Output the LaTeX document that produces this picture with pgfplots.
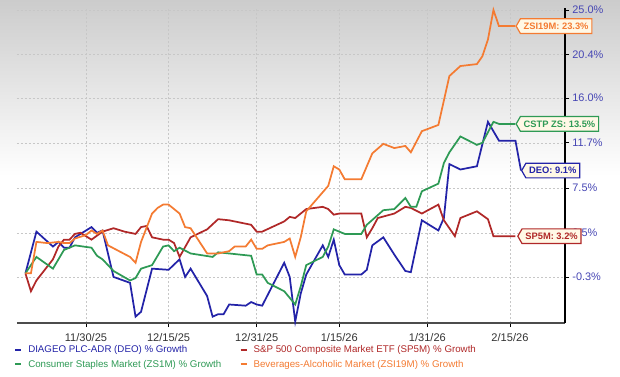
\documentclass[border=0pt]{standalone}
\usepackage{pgfplots}
\usepackage{pgfplotstable}
\pgfplotsset{compat=1.18}
\usepackage{fontspec}
\setmainfont{Liberation Sans}
\usetikzlibrary{shapes.symbols}
\definecolor{deo}{HTML}{2323A8}
\definecolor{spm}{HTML}{B02828}
\definecolor{cstp}{HTML}{2E9A55}
\definecolor{zsi}{HTML}{F47B32}
\definecolor{ticklab}{HTML}{4646B4}
\definecolor{callfill}{HTML}{FFF8E6}

% day 0 = 11/30/25 ; values in % growth
\pgfplotstableread{
d v
-11 0
-9 3.6
-6 2.3
-5 2.7
-4 2.2
-3 2.2
-2 3.1
1 4.0
2 3.5
3 3.7
5 -0.3
8 -0.8
9 -3.6
10 -3.2
12 0.4
15 0.3
17 1.2
18 -0.3
19 0.4
22 -1.9
23 -3.6
24 -3.4
25 -3.4
26 -2.6
29 -2.7
30 -2.4
31 -2.6
32 -2.7
36 0.9
37 -0.3
38 -4.0
39 -1.7
40 -0.1
43 2.4
44 1.4
45 2.9
46 0.7
47 -0.1
50 -0.1
51 0.3
52 2.4
54 3.1
56 1.6
58 0.2
59 0.1
61 4.6
64 3.7
65 4.8
66 9.7
68 9.2
71 9.5
73 13.7
75 11.9
78 11.9
79 9.1
}\deotab

\pgfplotstableread{
d v
-11 0
-10 -1.5
-9 -0.6
-6 1.2
-5 2.3
-4 2.9
-3 2.9
-2 3.4
-1 3.5
1 2.9
3 3.6
5 3.9
7 3.6
9 3.4
10 4.0
11 4.1
12 3.1
14 2.9
15 2.9
16 2.6
17 1.4
19 3.1
22 3.8
24 4.7
26 4.6
30 4.2
31 3.6
32 3.6
36 4.5
37 4.9
38 4.8
39 5.2
40 5.6
43 5.8
44 5.6
45 5.1
46 5.2
50 5.2
51 3.1
52 3.9
53 4.8
56 5.2
58 5.8
59 5.7
61 5.2
64 6.0
65 4.6
67 3.2
68 4.8
71 5.4
73 4.7
74 3.2
78 3.2
}\spmtab

\pgfplotstableread{
d v
-11 0
-9 1.4
-6 0.4
-4 2.0
-3 2.2
-2 2.4
1 2.2
2 1.5
3 1.2
5 0.2
8 -0.6
9 -0.4
10 0.4
12 0.7
14 2.3
15 2.4
16 1.9
17 2.2
19 1.7
23 1.4
24 1.8
30 1.5
31 -0.1
32 -0.1
33 -0.8
36 -1.5
38 -2.6
39 -1.1
40 0.7
43 1.4
44 2.3
45 3.8
47 3.4
50 3.4
51 4.2
54 5.5
56 5.6
58 6.6
59 5.8
60 5.8
61 7.2
64 7.9
65 9.8
66 10.8
68 12.3
71 11.5
72 11.7
74 13.7
75 13.5
78 13.5
}\cstptab

\pgfplotstableread{
d v
-11 0
-10 0
-9 2.7
-7 2.6
-5 2.7
-4 2.6
-3 2.6
-2 3.0
0 3.3
1 3.7
2 3.4
3 3.7
4 2.4
6 1.9
8 1.4
9 0.9
10 2.7
12 5.2
13 5.7
14 6.0
15 6.0
17 5.2
18 4.0
19 3.9
22 1.7
24 1.7
26 1.9
27 2.3
29 2.3
30 2.9
31 2.1
32 2.1
33 2.4
36 2.7
37 3.0
38 1.4
39 3.1
40 5.4
44 7.7
45 9.5
46 9.2
47 8.3
50 8.3
52 10.7
54 11.6
56 11.2
58 11.4
59 10.8
61 12.8
64 13.4
66 18.2
68 19.2
71 19.4
72 20.2
73 21.9
74 25.0
75 23.3
78 23.3
}\zsitab

\tikzset{callout/.style={shape=signal, signal to=west, signal pointer angle=120,
  draw=#1, fill=callfill, text=#1, line width=0.9pt,
  font=\bfseries\fontsize{7}{8}\selectfont, inner xsep=2.5pt, inner ysep=3pt}}

\begin{document}
\begin{tikzpicture}
\shade[top color=black!20, bottom color=white] (0pt,150pt) rectangle (465pt,282pt);
\fill[white] (0pt,0pt) rectangle (465pt,150pt);
\begin{axis}[
  at={(12.75pt,39.75pt)}, anchor=south west,
  scale only axis, width=411pt, height=236.25pt,
  clip=false,
  xmin=-12.53, xmax=87,
  ymin=-4.11, ymax=25.21,
  y coord trafo/.code={\pgfmathparse{ln(1+(#1)/100)}},
  y coord inv trafo/.code={\pgfmathparse{(exp(#1)-1)*100}},
  axis x line*=bottom, axis y line*=right,
  x axis line style={-, black!70, line width=1.4pt},
  y axis line style={-, black, line width=1.4pt},
  xtick={0,15,31,46,62,77},
  xticklabels={11/30/25,12/15/25,12/31/25,1/15/26,1/31/26,2/15/26},
  ytick={-0.3,3.5,7.5,11.7,16.0,20.4,25.0},
  yticklabels={-0.3\%,3.5\%,7.5\%,11.7\%,16.0\%,20.4\%,25.0\%},
  tick align=outside, major tick length=3pt,
  tick style={black, line width=0.6pt},
  grid=major,
  grid style={dash pattern=on 1.5pt off 1.5pt, black!22, line width=0.4pt},
  xticklabel style={font=\fontsize{8.3}{9}\selectfont, text=black!80, yshift=-1.5pt},
  yticklabel style={font=\fontsize{8.2}{9}\selectfont, text=ticklab, xshift=-1pt},
  legend columns=2,
  legend cell align=left,
  legend style={at={(axis description cs:-0.0055,-0.062)}, anchor=north west,
    draw=none, fill=none, inner sep=0pt,
    font=\fontsize{7.3}{8}\selectfont,
    nodes={inner xsep=0pt, inner ysep=1.9pt, text height=5.5pt, text depth=1.5pt}},
  legend image code/.code={\draw[#1, line width=1.5pt] (0pt,0pt) -- (4.5pt,0pt);},
]
\addplot[deo, line width=1.3pt] table[x=d, y=v] {\deotab};
\addlegendentry{\makebox[163pt][l]{\hspace{4.5pt}\textcolor{deo}{DIAGEO PLC-ADR (DEO) \% Growth}}}
\addplot[spm, line width=1.3pt] table[x=d, y=v] {\spmtab};
\addlegendentry{\hspace{4.5pt}\textcolor{spm}{S\&P 500 Composite Market ETF (SP5M) \% Growth}}
\addplot[cstp, line width=1.3pt] table[x=d, y=v] {\cstptab};
\addlegendentry{\makebox[163pt][l]{\hspace{4.5pt}\textcolor{cstp}{Consumer Staples Market (ZS1M) \% Growth}}}
\addplot[zsi, line width=1.3pt] table[x=d, y=v] {\zsitab};
\addlegendentry{\hspace{4.5pt}\textcolor{zsi}{Beverages-Alcoholic Market (ZSI19M) \% Growth}}

\addplot[forget plot, draw=none, mark=none, nodes near coords={ZSI19M: 23.3\%},
  every node near coord/.append style={callout=zsi, anchor=west}] coordinates {(78,23.3)};
\addplot[forget plot, draw=none, mark=none, nodes near coords={CSTP ZS: 13.5\%},
  every node near coord/.append style={callout=cstp, anchor=west}] coordinates {(78,13.5)};
\addplot[forget plot, draw=none, mark=none, nodes near coords={DEO: 9.1\%},
  every node near coord/.append style={callout=deo, anchor=west}] coordinates {(79,9.1)};
\addplot[forget plot, draw=none, mark=none, nodes near coords={SP5M: 3.2\%},
  every node near coord/.append style={callout=spm, anchor=west}] coordinates {(78.3,3.2)};
\end{axis}
\end{tikzpicture}
\end{document}
